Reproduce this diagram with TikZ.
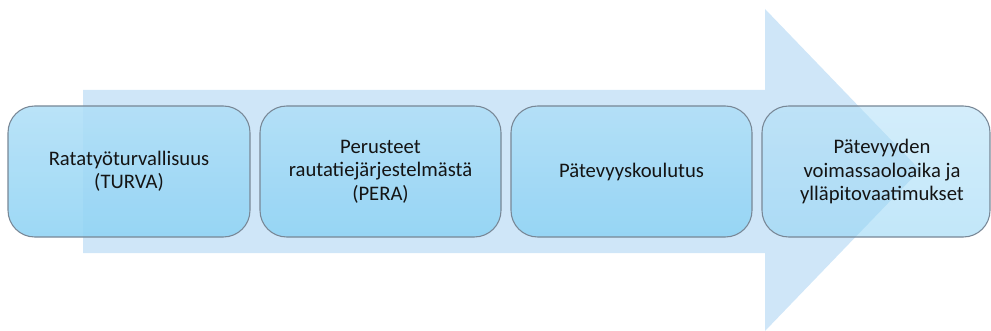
\documentclass[tikz,border=0pt]{standalone}
\usepackage{fontspec}
\setmainfont{Carlito}
\definecolor{shaftblue}{RGB}{207,230,248}
\definecolor{boxtop}{RGB}{176,223,247}
\definecolor{boxbot}{RGB}{143,211,244}
\definecolor{boxline}{RGB}{120,135,150}
\definecolor{txt}{RGB}{20,20,20}
\tikzset{
  stagebox/.style={rounded corners=20, draw=boxline, line width=0.8pt,
    top color=boxtop, bottom color=boxbot, fill opacity=0.88, draw opacity=1,
    text opacity=1},
  lastbox/.style={stagebox, fill opacity=0.55},
  stagetext/.style={align=center, text=txt, font=\fontsize{15.5}{17.6}\selectfont}
}
\begin{document}
\begin{tikzpicture}[x=0.75pt,y=-0.75pt]
\useasboundingbox (0,0) rectangle (991,331);
% big arrow
\fill[shaftblue] (83,90) -- (765,90) -- (765,9) -- (920,170) -- (765,331) -- (765,253) -- (83,253) -- cycle;
% boxes
\path[stagebox] (8,106) rectangle (250,237);
\path[stagebox] (260,106) rectangle (501,237);
\path[stagebox] (511,106) rectangle (752,237);
\path[lastbox] (762,106) rectangle (990,237);
% texts
\node[stagetext] (b1) at (129,171.5) {Ratatyöturvallisuus\\(TURVA)};
\node[stagetext] (b2) at (380.5,171.5) {Perusteet\\rautatiejärjestelmästä\\(PERA)};
\node[stagetext] (b3) at (631.5,171.5) {Pätevyyskoulutus};
\node[stagetext] (b4) at (882,171.5) {Pätevyyden\\voimassaoloaika ja\\ylläpitovaatimukset};
\end{tikzpicture}
\end{document}
